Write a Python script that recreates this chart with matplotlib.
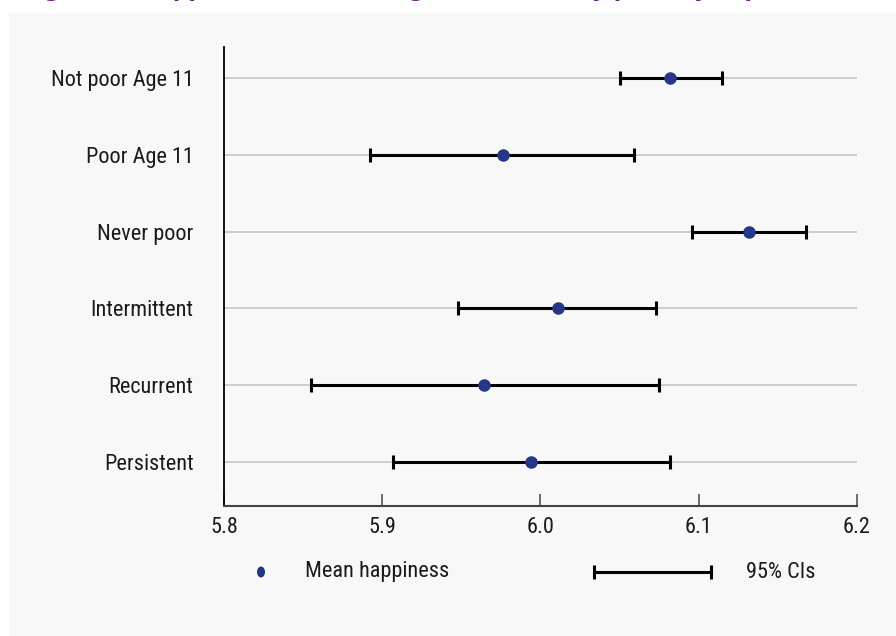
import matplotlib
matplotlib.use("Agg")
import matplotlib.pyplot as plt
from matplotlib.patches import Rectangle, Ellipse

plt.rcParams['font.family'] = ['Roboto Condensed', 'Lato', 'DejaVu Sans']

# data
groups = ['Not poor Age 11', 'Poor Age 11', 'Never poor', 'Intermittent', 'Recurrent', 'Persistent']
mean_happy = [6.082, 5.976, 6.132, 6.011, 5.964, 5.994]
ci_low = [6.050, 5.892, 6.096, 5.948, 5.855, 5.907]
ci_high = [6.115, 6.059, 6.168, 6.073, 6.075, 6.082]
xticks = [5.8, 5.9, 6.0, 6.1, 6.2]

title = 'Figure 4: Happiness scores at age 14 and 11 by poverty experience'
navy = '#253888'
fs = 16

fig = plt.figure(figsize=(8.96, 6.36), dpi=100)
fig.patch.set_facecolor('white')

# grey panel behind the chart
fig.patches.append(Rectangle((9 / 896, 0), 1, (636 - 13) / 636, transform=fig.transFigure,
                             facecolor='#f8f8f8', edgecolor='none', zorder=-5))

# title, mostly cut off by the top edge
fig.text(22 / 896, 1 + 3 / 636, title, va='baseline', ha='left', color='#6b1f7c',
         fontsize=15.7, fontweight='bold', family='DejaVu Sans')

ax = fig.add_axes([224 / 896, 130 / 636, (857 - 224) / 896, (506 - 47) / 636])
ax.set_facecolor('none')
ax.set_zorder(2)

ypos = list(range(len(groups)))
xerr = [[m - lo for m, lo in zip(mean_happy, ci_low)],
        [hi - m for m, hi in zip(mean_happy, ci_high)]]
ax.errorbar(mean_happy, ypos, xerr=xerr, fmt='none', ecolor='black', elinewidth=2.2,
            capsize=4.7, capthick=2.2, zorder=3)
ax.plot(mean_happy, ypos, 'o', color=navy, markersize=8, zorder=4)

ax.set_xlim(5.8, 6.2)
ax.set_ylim(5.57, -0.40)
ax.set_xticks(xticks)
ax.set_xticklabels(['%.1f' % v for v in xticks])
ax.set_yticks(ypos)
ax.set_yticklabels(groups)
ax.grid(axis='y', color='#c6c6c6', linewidth=1.2, zorder=1)
ax.set_axisbelow(True)

for s in ['top', 'right']:
    ax.spines[s].set_visible(False)
ax.spines['left'].set_color('black')
ax.spines['left'].set_linewidth(1.3)
ax.spines['bottom'].set_color('#444444')
ax.spines['bottom'].set_linewidth(1.5)

ax.tick_params(axis='x', direction='in', length=8.5, width=1.1, color='#444444',
               pad=8, labelsize=fs, labelcolor='#1a1a1a')
ax.tick_params(axis='y', length=0, pad=22, labelsize=fs, labelcolor='#1a1a1a')

# legend drawn on a full-figure overlay in pixel units
lg = fig.add_axes([0, 0, 1, 1])
lg.set_xlim(0, 896)
lg.set_ylim(636, 0)
lg.axis('off')
lg.set_zorder(1)
lg.add_patch(Ellipse((261, 572), 8, 11, facecolor=navy, edgecolor='none'))
lg.text(305, 572, 'Mean happiness', va='center', ha='left', fontsize=fs, color='#1a1a1a')
lg.errorbar([652.5], [572], xerr=[58.5], fmt='none', ecolor='black', elinewidth=2.2,
            capsize=4.7, capthick=2.2)
lg.text(746, 572, '95% CIs', va='center', ha='left', fontsize=fs, color='#1a1a1a')

fig.savefig('out.png', dpi=100)
